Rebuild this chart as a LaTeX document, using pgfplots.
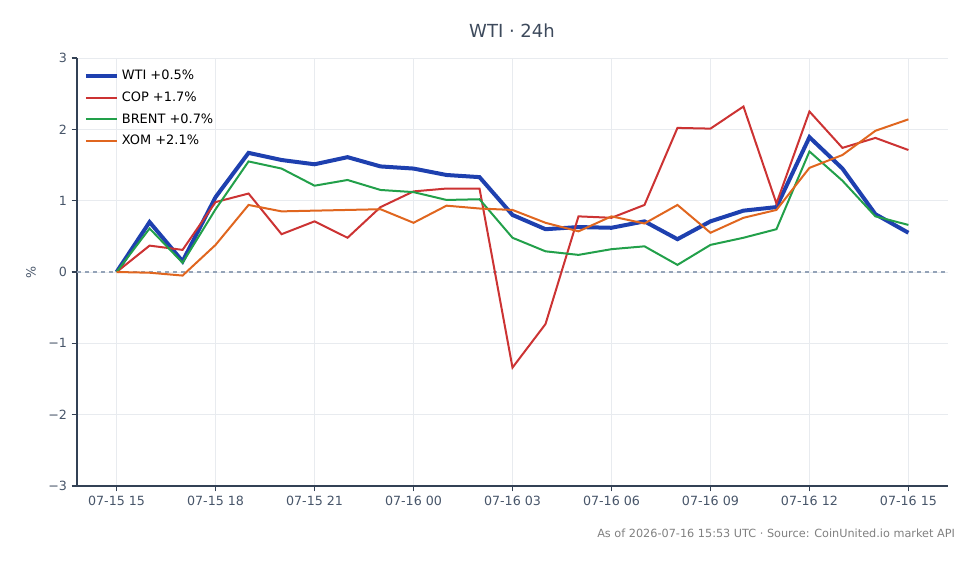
\documentclass[border=0pt]{standalone}
\usepackage{pgfplots}
\pgfplotsset{compat=1.18}
\usepackage{fontspec}
\setmainfont{DejaVu Sans}
\definecolor{cwti}{HTML}{1E40AF}
\definecolor{ccop}{HTML}{CC3333}
\definecolor{cbrent}{HTML}{22A04A}
\definecolor{cxom}{HTML}{E0661F}
\definecolor{ctext}{HTML}{475569}
\definecolor{ctitle}{HTML}{3D4A5C}
\definecolor{cspine}{HTML}{334155}
\definecolor{cgrid}{HTML}{E8EBEF}
\definecolor{czero}{HTML}{94A3B8}
\begin{document}
\begin{tikzpicture}
\path (-57.75pt,-58.5pt) rectangle (677.25pt,364.5pt);
\begin{axis}[
  at={(0pt,0pt)}, anchor=south west,
  scale only axis, width=653.25pt, height=321pt,
  xmin=-1.2, xmax=25.2, ymin=-3, ymax=3,
  axis x line*=bottom, axis y line*=left,
  axis line style={-, cspine, line width=0.8pt},
  xtick={0,3,...,24},
  xticklabels={07-15 15,07-15 18,07-15 21,07-16 00,07-16 03,07-16 06,07-16 09,07-16 12,07-16 15},
  ytick={-3,-2,-1,0,1,2,3},
  yticklabels={−3,−2,−1,0,1,2,3},
  tick align=outside, major tick length=4pt,
  tick style={cspine, line width=0.8pt},
  ticklabel style={font=\fontsize{9.5}{11}\selectfont, text=ctext},
  grid=major, major grid style={cgrid, line width=0.6pt},
  legend style={draw=none, fill=none, at={(0.003,0.985)}, anchor=north west, font=\fontsize{9.7}{11.5}\selectfont, row sep=3.6pt, text=black, inner xsep=3pt},
  legend cell align=left,
  legend image code/.code={\draw[#1] (0pt,0pt) -- (23.5pt,0pt);},
]
\addplot[czero, dashed, line width=0.8pt, forget plot] coordinates {(-1.2,0) (25.2,0)};
\addplot[cwti, line width=3pt] coordinates {
(0,0) (1,0.70) (2,0.15) (3,1.05) (4,1.67) (5,1.57) (6,1.51) (7,1.61) (8,1.48) (9,1.45) (10,1.36) (11,1.33) (12,0.80) (13,0.60) (14,0.63) (15,0.62) (16,0.71) (17,0.46) (18,0.71) (19,0.86) (20,0.91) (21,1.89) (22,1.45) (23,0.81) (24,0.55)};
\addlegendentry{WTI +0.5\%}
\addplot[ccop, line width=1.5pt] coordinates {
(0,0) (1,0.37) (2,0.31) (3,0.98) (4,1.10) (5,0.53) (6,0.71) (7,0.48) (8,0.91) (9,1.13) (10,1.17) (11,1.17) (12,-1.34) (13,-0.73) (14,0.78) (15,0.76) (16,0.94) (17,2.02) (18,2.01) (19,2.32) (20,0.96) (21,2.25) (22,1.74) (23,1.88) (24,1.71)};
\addlegendentry{COP +1.7\%}
\addplot[cbrent, line width=1.5pt] coordinates {
(0,0) (1,0.61) (2,0.13) (3,0.88) (4,1.55) (5,1.45) (6,1.21) (7,1.29) (8,1.15) (9,1.12) (10,1.01) (11,1.02) (12,0.48) (13,0.29) (14,0.24) (15,0.32) (16,0.36) (17,0.10) (18,0.38) (19,0.48) (20,0.60) (21,1.69) (22,1.28) (23,0.78) (24,0.66)};
\addlegendentry{BRENT +0.7\%}
\addplot[cxom, line width=1.5pt] coordinates {
(0,0) (1,-0.01) (2,-0.05) (3,0.38) (4,0.94) (5,0.85) (6,0.86) (7,0.87) (8,0.88) (9,0.69) (10,0.93) (11,0.89) (12,0.87) (13,0.69) (14,0.57) (15,0.78) (16,0.68) (17,0.94) (18,0.55) (19,0.76) (20,0.87) (21,1.46) (22,1.64) (23,1.98) (24,2.14)};
\addlegendentry{XOM +2.1\%}
\end{axis}
\node[text=ctitle, font=\fontsize{13.5}{15}\selectfont] at (326.25pt,341.25pt) {WTI · 24h};
\node[text=ctext, rotate=90, font=\fontsize{9.5}{11}\selectfont] at (-34.5pt,160.5pt) {\%};
\node[text=gray, anchor=east, font=\fontsize{8.45}{10}\selectfont] at (662pt,-35.25pt) {As of 2026-07-16 15:53 UTC · Source: CoinUnited.io market API};
\end{tikzpicture}
\end{document}
